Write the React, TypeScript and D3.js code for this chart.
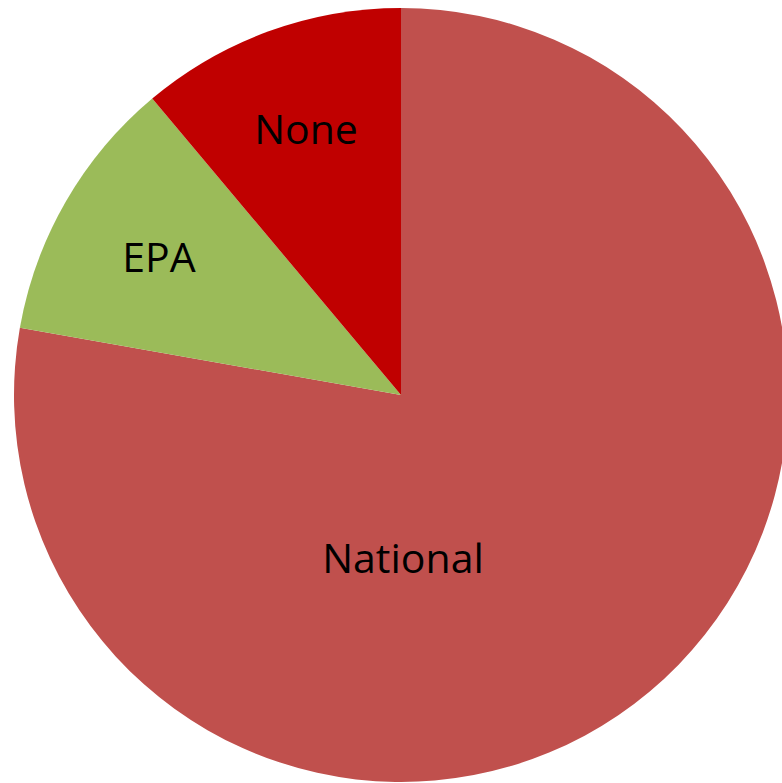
import React from "react";
import * as d3 from "d3";

const categories = ["National", "EPA", "None"];
const values = [14, 2, 2];
const colors = ["#C0504D", "#9BBB59", "#C00000"];
const labelPos = [
  { x: 403, y: 573 },
  { x: 159, y: 272 },
  { x: 306, y: 144 },
];

export default function App() {
  const width = 782;
  const height = 783;
  const cx = 401;
  const cy = 395;
  const r = 387;
  const pie = d3.pie<number>().sort(null).value((d) => d);
  const arcs = pie(values);
  const arc = d3.arc<d3.PieArcDatum<number>>().innerRadius(0).outerRadius(r);
  return (
    <svg
      width={width}
      height={height}
      style={{ position: "absolute", left: 0, top: 0, background: "#fff" }}
    >
      <g transform={`translate(${cx},${cy})`}>
        {arcs.map((a, i) => (
          <path key={i} d={arc(a) || ""} fill={colors[i]} />
        ))}
      </g>
      {categories.map((c, i) => (
        <text
          key={c}
          x={labelPos[i].x}
          y={labelPos[i].y}
          textAnchor="middle"
          fontFamily="'Open Sans', sans-serif"
          fontSize={41}
          fill="#000"
        >
          {c}
        </text>
      ))}
    </svg>
  );
}
